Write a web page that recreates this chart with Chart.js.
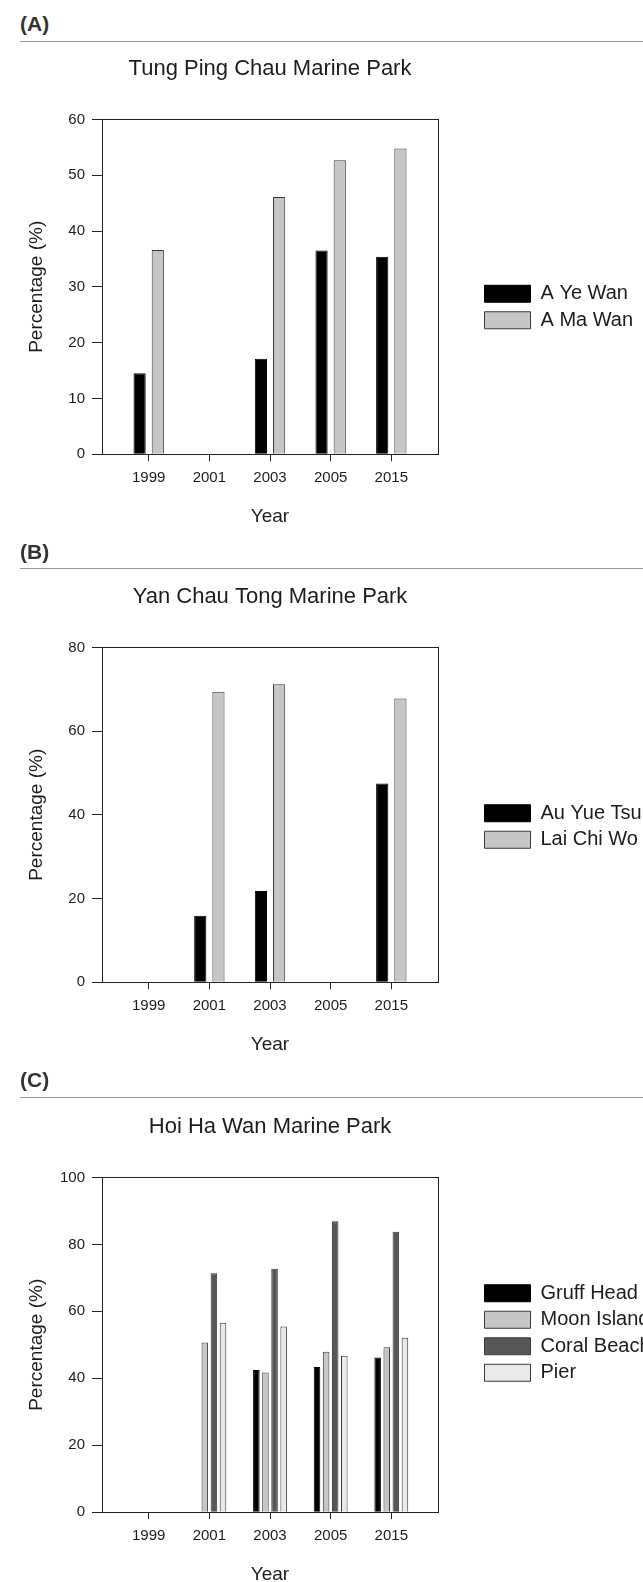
<!DOCTYPE html>
<html>
<head>
<meta charset="utf-8">
<title>Marine park percentages</title>
<script src="https://cdn.jsdelivr.net/npm/chart.js@4.4.0/dist/chart.umd.min.js"></script>
<style>
    html, body { margin: 0; padding: 0; background: #ffffff; }
    body {
        position: relative;
        width: 643px;
        height: 1582px;
        overflow: hidden;
        font-family: 'Liberation Sans', Arial, sans-serif;
    }
    .panel-label {
        position: absolute;
        left: 20px;
        font-size: 21px;
        font-weight: bold;
        line-height: 24px;
        color: #333333;
    }
    .panel-rule {
        position: absolute;
        left: 20px;
        right: 0;
        height: 0;
        border-top: 1px solid #999999;
    }
    canvas { position: absolute; left: 0; }
</style>
</head>
<body>

<div class="panel-label" style="top:12px">(A)</div>
<div class="panel-rule" style="top:41px"></div>
<canvas id="tungPingChauChart" width="643" height="502" style="top:56px"></canvas>

<div class="panel-label" style="top:540px">(B)</div>
<div class="panel-rule" style="top:568px"></div>
<canvas id="yanChauTongChart" width="643" height="485" style="top:584px"></canvas>

<div class="panel-label" style="top:1068px">(C)</div>
<div class="panel-rule" style="top:1097px"></div>
<canvas id="hoiHaWanChart" width="643" height="506" style="top:1080px"></canvas>

<script>
// --- DATA ---
const YEARS = ['1999', '2001', '2003', '2005', '2015'];

// Tung Ping Chau Marine Park (%)
const aYeWan = [14.5, null, 17.1, 36.5, 35.4];
const aMaWan = [36.6, null, 46.1, 52.7, 54.8];

// Yan Chau Tong Marine Park (%)
const auYueTsui = [null, 15.9, 21.8, null, 47.5];
const laiChiWo = [null, 69.4, 71.2, null, 67.8];

// Hoi Ha Wan Marine Park (%)
const gruffHead = [null, null, 42.5, 43.4, 46.2];
const moonIsland = [null, 50.7, 41.7, 47.9, 49.3];
const coralBeach = [null, 71.4, 72.7, 86.9, 83.8];
const pier = [null, 56.6, 55.5, 46.7, 52.1];

// y axis ranges [max, step]
const yAxisA = [60, 10];
const yAxisB = [80, 20];
const yAxisC = [100, 20];

// --- CONSTANTS ---
const SHADES = {
    black: '#000000',
    light: '#c6c6c6',
    dark: '#575757',
    pale: '#e9e9e9',
    edge: '#3a3a3a',
    ink: '#1c1c1c',
    axis: '#222222'
};

Chart.defaults.font.family = "'Liberation Sans', Arial, sans-serif";
Chart.defaults.color = SHADES.ink;

// years sit on a linear index axis so the outer margins can be wider than a category slot
function barSeries(label, values, fill) {
    return {
        label: label,
        data: values.map((v, i) => ({ x: i, y: v })),
        backgroundColor: fill,
        borderColor: fill === SHADES.black ? SHADES.black : SHADES.edge,
        borderWidth: 1,
        xAxisID: 'x',
        yAxisID: 'y'
    };
}

function renderPanel(canvasId, title, datasets, yAxis, look) {
    const [yMax, yStep] = yAxis;
    new Chart(document.getElementById(canvasId), {
        type: 'bar',
        data: { datasets: datasets },
        options: {
            responsive: false,
            animation: false,
            datasets: { bar: { categoryPercentage: 0.6, barPercentage: look.barPercentage } },
            layout: { padding: { right: 0 } },
            plugins: {
                title: {
                    display: true,
                    text: title,
                    fullSize: false,
                    color: SHADES.ink,
                    font: { size: 22, weight: 'normal' },
                    padding: { top: look.titleTop, bottom: 37 }
                },
                // legend runs off the right edge, long names get cut there
                legend: {
                    position: 'right',
                    align: 'center',
                    maxWidth: 165,
                    labels: {
                        color: SHADES.ink,
                        font: { size: 20 },
                        boxWidth: 46,
                        boxHeight: 17,
                        padding: 6.5
                    }
                },
                tooltip: { enabled: false }
            },
            scales: {
                x: {
                    type: 'linear',
                    position: 'bottom',
                    min: -0.77,
                    max: 4.77,
                    offset: false,
                    afterBuildTicks: (scale) => { scale.ticks = YEARS.map((_, i) => ({ value: i })); },
                    grid: { offset: false, drawOnChartArea: false, tickLength: 7, color: SHADES.axis },
                    border: { color: SHADES.axis },
                    ticks: {
                        autoSkip: false,
                        maxRotation: 0,
                        padding: 7.5,
                        color: SHADES.ink,
                        font: { size: 15 },
                        callback: (value) => YEARS[value]
                    },
                    title: {
                        display: true,
                        text: 'Year',
                        color: SHADES.ink,
                        font: { size: 19 },
                        padding: { top: 11, bottom: look.yearBottom }
                    }
                },
                y: {
                    position: 'left',
                    min: 0,
                    max: yMax,
                    afterFit: (scale) => { scale.width = 102; },
                    grid: { drawOnChartArea: false, tickLength: 10, color: SHADES.axis },
                    border: { color: SHADES.axis },
                    ticks: { stepSize: yStep, padding: 7, color: SHADES.ink, font: { size: 15 } },
                    title: {
                        display: true,
                        text: 'Percentage (%)',
                        color: SHADES.ink,
                        font: { size: 19 },
                        padding: { top: 25.5, bottom: 0 }
                    }
                },
                // top and right edges of the plot frame
                xTop: {
                    type: 'linear',
                    position: 'top',
                    offset: false,
                    afterFit: (scale) => { scale.height = 0; },
                    grid: { display: false },
                    ticks: { display: false },
                    border: { display: true, color: SHADES.axis }
                },
                yRight: {
                    type: 'linear',
                    position: 'right',
                    afterFit: (scale) => { scale.width = 40; },
                    grid: { display: false },
                    ticks: { display: false },
                    border: { display: true, color: SHADES.axis }
                }
            }
        }
    });
}

// --- PANELS ---
renderPanel('tungPingChauChart', 'Tung Ping Chau Marine Park', [
    barSeries('A Ye Wan', aYeWan, SHADES.black),
    barSeries('A Ma Wan', aMaWan, SHADES.light)
], yAxisA, { barPercentage: 0.67, titleTop: 0, yearBottom: 30 });

renderPanel('yanChauTongChart', 'Yan Chau Tong Marine Park', [
    barSeries('Au Yue Tsui', auYueTsui, SHADES.black),
    barSeries('Lai Chi Wo', laiChiWo, SHADES.light)
], yAxisB, { barPercentage: 0.67, titleTop: 0, yearBottom: 13 });

renderPanel('hoiHaWanChart', 'Hoi Ha Wan Marine Park', [
    barSeries('Gruff Head', gruffHead, SHADES.black),
    barSeries('Moon Island', moonIsland, SHADES.light),
    barSeries('Coral Beach', coralBeach, SHADES.dark),
    barSeries('Pier', pier, SHADES.pale)
], yAxisC, { barPercentage: 0.72, titleTop: 34, yearBottom: 0 });
</script>
</body>
</html>
